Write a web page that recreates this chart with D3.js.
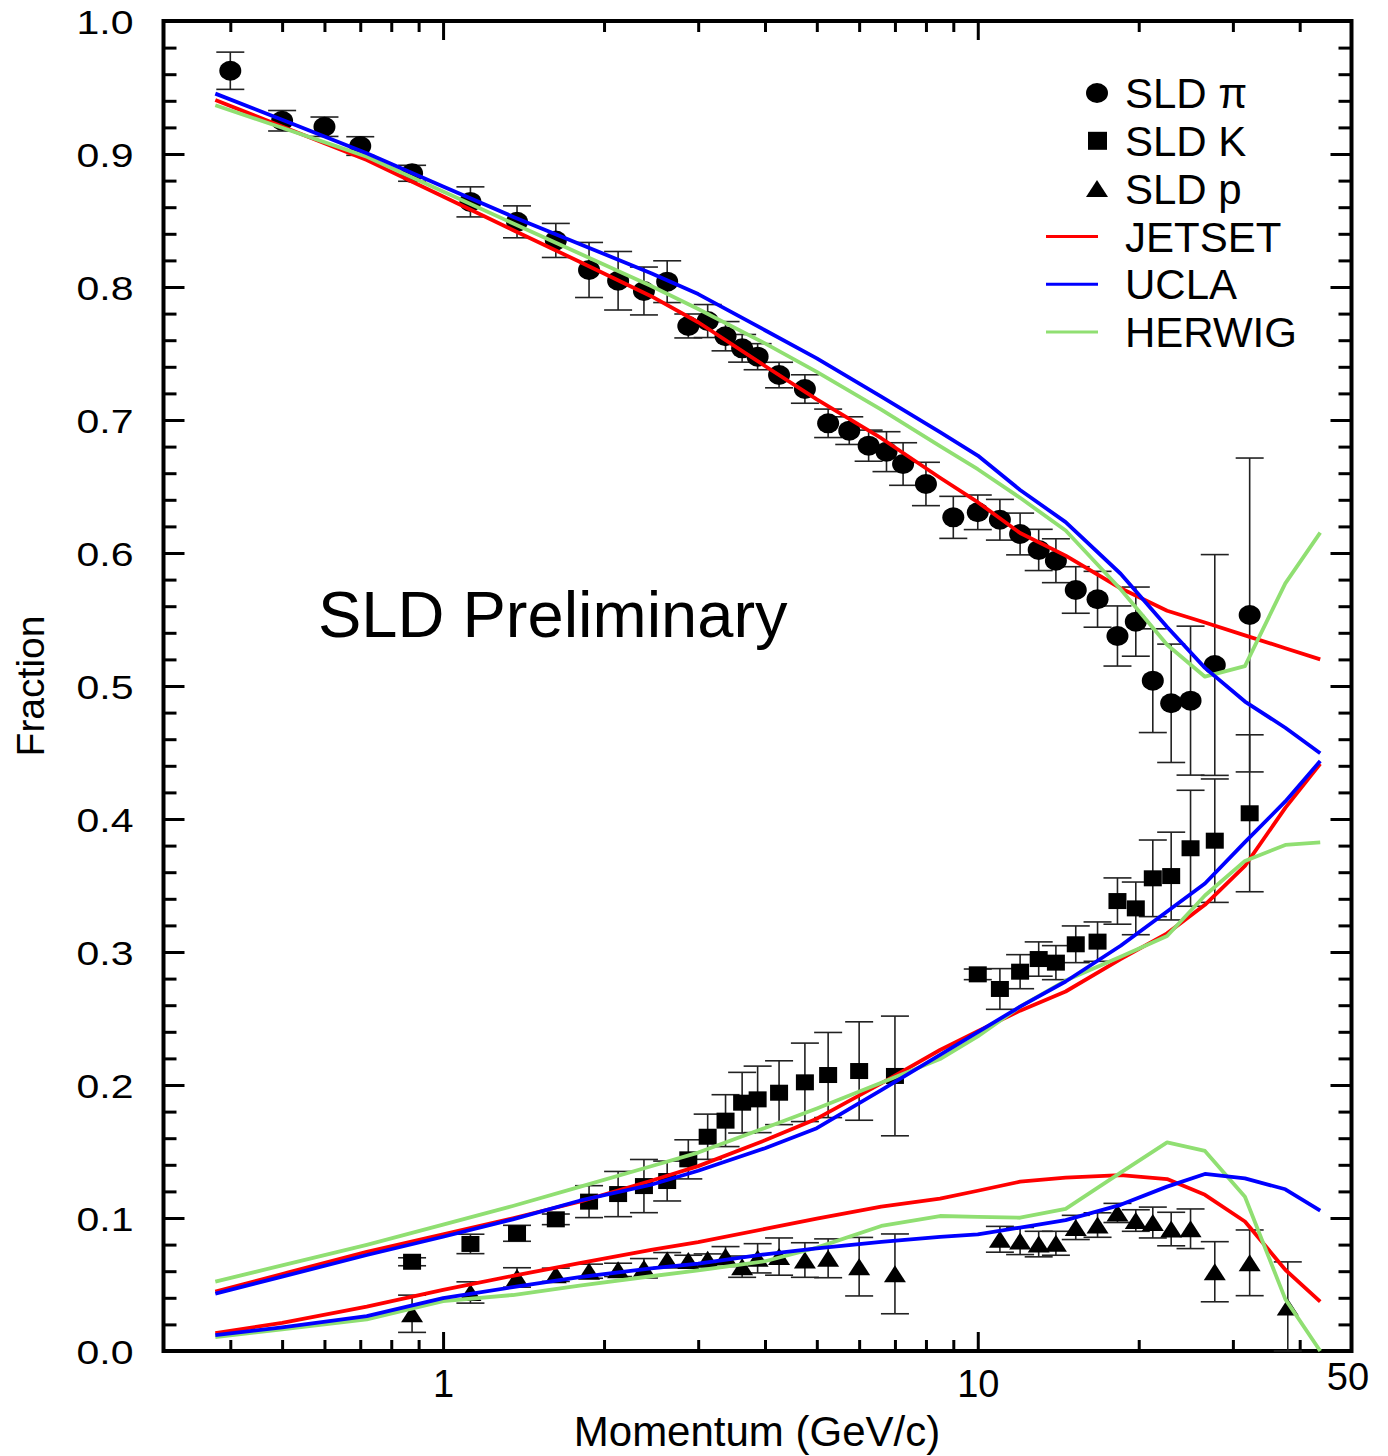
<!DOCTYPE html>
<html>
<head>
<meta charset="utf-8">
<script src="https://cdn.jsdelivr.net/npm/d3@7"></script>
<style>
  body { margin: 0; background: #fff; }
  text { font-family: "Liberation Sans", Arial, sans-serif; fill: #000; }
</style>
</head>
<body>
<div id="chart"></div>
<script>
// SLD measured fractions (momentum in GeV/c, fraction, error)
const pionP = [0.4, 0.5, 0.6, 0.7, 0.875, 1.125, 1.375, 1.625, 1.875, 2.125, 2.375, 2.625, 2.875, 3.125, 3.375, 3.625, 3.875, 4.25, 4.75, 5.25, 5.75, 6.25, 6.75, 7.25, 8.0, 9.0, 10.0, 11.0, 12.0, 13.0, 14.0, 15.25, 16.75, 18.25, 19.75, 21.25, 23.0, 25.0, 27.75, 32.25];
const pionF = [0.9626, 0.925, 0.9205, 0.906, 0.8855, 0.864, 0.849, 0.835, 0.8128, 0.8047, 0.797, 0.804, 0.7707, 0.7744, 0.763, 0.7539, 0.7476, 0.7338, 0.7233, 0.6975, 0.692, 0.6807, 0.6762, 0.6669, 0.6519, 0.6268, 0.6306, 0.625, 0.6143, 0.6023, 0.5942, 0.5722, 0.5652, 0.5376, 0.5484, 0.504, 0.487, 0.489, 0.5158, 0.5534];
const pionErr = [0.014, 0.0077, 0.0073, 0.007, 0.006, 0.0113, 0.012, 0.0128, 0.0207, 0.022, 0.018, 0.0157, 0.009, 0.0124, 0.011, 0.0104, 0.0098, 0.0096, 0.0107, 0.0107, 0.0104, 0.0117, 0.015, 0.016, 0.0163, 0.0158, 0.013, 0.0153, 0.0157, 0.0155, 0.0165, 0.0175, 0.021, 0.0226, 0.026, 0.039, 0.0445, 0.056, 0.083, 0.118];

const kaonP = [0.875, 1.125, 1.375, 1.625, 1.875, 2.125, 2.375, 2.625, 2.875, 3.125, 3.375, 3.625, 3.875, 4.25, 4.75, 5.25, 6.0, 7.0, 10.0, 11.0, 12.0, 13.0, 14.0, 15.25, 16.75, 18.25, 19.75, 21.25, 23.0, 25.0, 27.75, 32.25];
const kaonF = [0.0671, 0.0805, 0.0885, 0.099, 0.1123, 0.118, 0.124, 0.1278, 0.1441, 0.1611, 0.1732, 0.1867, 0.1892, 0.1942, 0.202, 0.2075, 0.2105, 0.2068, 0.2832, 0.2722, 0.2852, 0.2947, 0.292, 0.3058, 0.3078, 0.3383, 0.3328, 0.3554, 0.3571, 0.378, 0.3837, 0.4043];
const kaonErr = [0.003, 0.0073, 0.006, 0.004, 0.012, 0.017, 0.02, 0.015, 0.0147, 0.017, 0.0195, 0.0228, 0.025, 0.024, 0.0295, 0.032, 0.037, 0.045, 0.004, 0.0153, 0.0128, 0.0129, 0.0128, 0.0138, 0.0148, 0.0174, 0.0198, 0.0288, 0.033, 0.0436, 0.0464, 0.059];

const protonP = [0.875, 1.125, 1.375, 1.625, 1.875, 2.125, 2.375, 2.625, 2.875, 3.125, 3.375, 3.625, 3.875, 4.25, 4.75, 5.25, 6.0, 7.0, 11.0, 12.0, 13.0, 14.0, 15.25, 16.75, 18.25, 19.75, 21.25, 23.0, 25.0, 27.75, 32.25, 38.0];
const protonF = [0.028, 0.044, 0.0553, 0.0573, 0.06, 0.061, 0.0622, 0.0684, 0.068, 0.069, 0.071, 0.0634, 0.0697, 0.071, 0.0684, 0.0697, 0.0634, 0.058, 0.084, 0.0827, 0.0804, 0.081, 0.0929, 0.0947, 0.1038, 0.0981, 0.0966, 0.0917, 0.0919, 0.0596, 0.0663, 0.033];
const protonErr = [0.014, 0.008, 0.0073, 0.005, 0.0053, 0.005, 0.0073, 0.0056, 0.004, 0.004, 0.0075, 0.008, 0.011, 0.014, 0.013, 0.0146, 0.022, 0.03, 0.0097, 0.0102, 0.0096, 0.009, 0.0091, 0.0092, 0.0072, 0.0081, 0.0116, 0.0126, 0.0149, 0.0226, 0.0247, 0.034];

// Model predictions, read on one momentum grid
const modelP = [0.375, 0.5, 0.72, 1.0, 1.35, 1.8, 2.45, 3.0, 4.0, 5.0, 6.6, 8.5, 10, 12, 14.6, 18.5, 22.6, 26.6, 31.6, 37.6, 43.7];

const jetsetPi = [0.9406, 0.9207, 0.8955, 0.8681, 0.8429, 0.819, 0.7931, 0.7735, 0.7406, 0.7155, 0.6863, 0.6566, 0.6382, 0.615, 0.598, 0.5735, 0.5566, 0.5477, 0.5381, 0.5284, 0.52];
const uclaPi   = [0.9454, 0.9257, 0.9005, 0.8756, 0.8529, 0.8324, 0.8103, 0.7947, 0.7675, 0.7463, 0.7175, 0.6909, 0.6733, 0.6474, 0.6232, 0.5844, 0.5444, 0.5136, 0.4883, 0.4686, 0.4494];
const herwigPi = [0.9366, 0.9197, 0.898, 0.8718, 0.8479, 0.8252, 0.8007, 0.7834, 0.7576, 0.7362, 0.7078, 0.6803, 0.663, 0.6415, 0.6169, 0.5728, 0.531, 0.507, 0.515, 0.5772, 0.6153];

const jetsetK  = [0.0447, 0.0579, 0.0746, 0.0877, 0.0998, 0.1122, 0.128, 0.139, 0.1584, 0.1747, 0.2012, 0.2263, 0.2405, 0.2559, 0.2703, 0.2947, 0.314, 0.3355, 0.3647, 0.4084, 0.4414];
const uclaK    = [0.0431, 0.0559, 0.0722, 0.0859, 0.099, 0.113, 0.125, 0.1355, 0.1525, 0.1675, 0.1961, 0.2226, 0.2398, 0.2589, 0.2778, 0.3047, 0.3305, 0.3515, 0.3826, 0.4132, 0.4436];
const herwigK  = [0.0522, 0.0644, 0.0798, 0.095, 0.109, 0.1234, 0.1389, 0.1492, 0.1677, 0.1824, 0.2017, 0.2195, 0.2366, 0.2589, 0.2785, 0.2964, 0.312, 0.3425, 0.3685, 0.3805, 0.3825];

const jetsetP  = [0.0134, 0.0212, 0.0334, 0.0459, 0.0565, 0.066, 0.076, 0.0818, 0.0918, 0.0995, 0.1085, 0.1145, 0.1205, 0.1273, 0.1304, 0.1323, 0.1293, 0.1174, 0.0974, 0.0611, 0.0371];
const uclaPr   = [0.012, 0.0177, 0.0262, 0.0398, 0.048, 0.0555, 0.0622, 0.0657, 0.0727, 0.0772, 0.082, 0.0858, 0.0877, 0.0928, 0.0984, 0.1099, 0.1236, 0.1331, 0.1298, 0.1216, 0.1055];
const herwigPr = [0.0104, 0.0163, 0.0238, 0.0375, 0.0421, 0.0492, 0.0562, 0.0606, 0.0675, 0.0777, 0.094, 0.1015, 0.1008, 0.1002, 0.1068, 0.1341, 0.1569, 0.1504, 0.116, 0.039, 0.0];

// Axis ticks
const yMajor = [0, 0.1, 0.2, 0.3, 0.4, 0.5, 0.6, 0.7, 0.8, 0.9, 1.0];
const yMinor = d3.range(51).filter(i => i % 5 !== 0).map(i => i / 50);
const xMajor = [1, 10];
const xMinor = [0.4, 0.5, 0.6, 0.7, 0.8, 0.9, 2, 3, 4, 5, 6, 7, 8, 9, 20, 30, 40];
const xLabels = [1, 10, 50];

// Legend entries
const markerLegend = ["SLD \u03c0", "SLD K", "SLD p"];
const lineLegend = ["JETSET", "UCLA", "HERWIG"];
const lineColors = { JETSET: "#ff0000", UCLA: "#0000ff", HERWIG: "#90df72" };

// Plot frame in pixels
const frame = { left: 163.5, right: 1351.5, top: 21, bottom: 1351 };

const svg = d3.select("#chart")
    .append("svg")
    .attr("width", 1388)
    .attr("height", 1456);

const x = d3.scaleLog().domain([0.3, 50]).range([frame.left, frame.right]);
const y = d3.scaleLinear().domain([0, 1]).range([frame.bottom, frame.top]);

// Helper to style an axis group
function styleAxis(g) {
    g.select(".domain").remove();
    g.selectAll(".tick line").attr("stroke", "#000").attr("stroke-width", 3);
    g.attr("font-family", "Liberation Sans, Arial, sans-serif");
}

// Minor ticks on all four sides
svg.append("g").attr("transform", `translate(${frame.left},0)`)
    .call(d3.axisLeft(y).tickValues(yMinor).tickSize(-13).tickFormat(""))
    .call(styleAxis);
svg.append("g").attr("transform", `translate(${frame.right},0)`)
    .call(d3.axisRight(y).tickValues(yMinor).tickSize(-13).tickFormat(""))
    .call(styleAxis);
svg.append("g").attr("transform", `translate(0,${frame.top})`)
    .call(d3.axisTop(x).tickValues(xMinor).tickSize(-11).tickFormat(""))
    .call(styleAxis);
svg.append("g").attr("transform", `translate(0,${frame.bottom})`)
    .call(d3.axisBottom(x).tickValues(xMinor).tickSize(-11).tickFormat(""))
    .call(styleAxis);

// Major ticks
const yAxis = svg.append("g").attr("transform", `translate(${frame.left},0)`)
    .call(d3.axisLeft(y).tickValues(yMajor).tickSize(-21).tickPadding(30).tickFormat(d3.format(".1f")))
    .call(styleAxis);
yAxis.selectAll("text")
    .attr("font-size", 34)
    .attr("fill", "#000")
    .attr("dy", "0.38em")
    .attr("textLength", 57)
    .attr("lengthAdjust", "spacingAndGlyphs");

svg.append("g").attr("transform", `translate(${frame.right},0)`)
    .call(d3.axisRight(y).tickValues(yMajor).tickSize(-21).tickFormat(""))
    .call(styleAxis);
svg.append("g").attr("transform", `translate(0,${frame.top})`)
    .call(d3.axisTop(x).tickValues(xMajor).tickSize(-19).tickFormat(""))
    .call(styleAxis);

const xAxis = svg.append("g").attr("transform", `translate(0,${frame.bottom})`)
    .call(d3.axisBottom(x).tickValues(xLabels).tickSize(-19).tickPadding(19).tickFormat(d3.format("d")))
    .call(styleAxis);
xAxis.selectAll("text")
    .attr("font-size", 38)
    .attr("fill", "#000");
// the 50 label sits a little higher and left in the original
xAxis.selectAll(".tick")
    .filter(d => d === 50)
    .select("text")
    .attr("x", -4)
    .attr("y", 12);
xAxis.selectAll(".tick").filter(d => d === 50).select("line").remove();

// Frame
svg.append("rect")
    .attr("x", frame.left)
    .attr("y", frame.top)
    .attr("width", frame.right - frame.left)
    .attr("height", frame.bottom - frame.top)
    .attr("fill", "none")
    .attr("stroke", "#000")
    .attr("stroke-width", 4);

// Axis titles
svg.append("text")
    .attr("x", 757)
    .attr("y", 1446)
    .attr("text-anchor", "middle")
    .attr("font-size", 42)
    .text("Momentum (GeV/c)");

svg.append("text")
    .attr("transform", "translate(44,686) rotate(-90)")
    .attr("text-anchor", "middle")
    .attr("font-size", 39)
    .text("Fraction");

svg.append("text")
    .attr("x", 318)
    .attr("y", 637)
    .attr("font-size", 65)
    .text("SLD Preliminary");

// Build the measured series
const zip = (p, f, e) => p.map((v, i) => ({ p: v, f: f[i], e: e[i] }));
const pions = zip(pionP, pionF, pionErr);
const kaons = zip(kaonP, kaonF, kaonErr);
const protons = zip(protonP, protonF, protonErr);

// Error bars
const errG = svg.append("g")
    .attr("stroke", "#222")
    .attr("stroke-width", 1.6)
    .attr("fill", "none");

[pions, kaons, protons].forEach(series => {
    series.forEach(d => {
        const cx = x(d.p);
        const y1 = y(d.f + d.e), y2 = y(Math.max(0, d.f - d.e));
        errG.append("line").attr("x1", cx).attr("x2", cx).attr("y1", y1).attr("y2", y2);
        errG.append("line").attr("x1", cx - 14).attr("x2", cx + 14).attr("y1", y1).attr("y2", y1);
        errG.append("line").attr("x1", cx - 14).attr("x2", cx + 14).attr("y1", y2).attr("y2", y2);
    });
});

// Markers
const triangle = "M0,-8.5L11,8.5L-11,8.5Z";

svg.append("g").selectAll("ellipse")
    .data(pions)
    .enter()
    .append("ellipse")
    .attr("cx", d => x(d.p))
    .attr("cy", d => y(d.f))
    .attr("rx", 11)
    .attr("ry", 10)
    .attr("fill", "#000");

svg.append("g").selectAll("rect")
    .data(kaons)
    .enter()
    .append("rect")
    .attr("x", d => x(d.p) - 9)
    .attr("y", d => y(d.f) - 8)
    .attr("width", 18)
    .attr("height", 16)
    .attr("fill", "#000");

svg.append("g").selectAll("path")
    .data(protons)
    .enter()
    .append("path")
    .attr("transform", d => `translate(${x(d.p)},${y(d.f)})`)
    .attr("d", triangle)
    .attr("fill", "#000");

// Model curves, drawn on top of the data
const line = d3.line()
    .x(d => x(d[0]))
    .y(d => y(d[1]));

const models = [
    { name: "JETSET", series: [jetsetPi, jetsetK, jetsetP] },
    { name: "HERWIG", series: [herwigPi, herwigK, herwigPr] },
    { name: "UCLA", series: [uclaPi, uclaK, uclaPr] }
];

models.forEach(m => {
    m.series.forEach(vals => {
        svg.append("path")
            .datum(modelP.map((p, i) => [p, vals[i]]))
            .attr("fill", "none")
            .attr("stroke", lineColors[m.name])
            .attr("stroke-width", 3.8)
            .attr("stroke-linejoin", "round")
            .attr("d", line);
    });
});

// Legend
const legend = svg.append("g");
const rowY = i => 93 + i * 47.8;

markerLegend.forEach((label, i) => {
    const cy = rowY(i);
    if (i === 0) {
        legend.append("ellipse").attr("cx", 1097).attr("cy", cy).attr("rx", 11).attr("ry", 10).attr("fill", "#000");
    } else if (i === 1) {
        legend.append("rect").attr("x", 1088).attr("y", cy - 9).attr("width", 19).attr("height", 18).attr("fill", "#000");
    } else {
        legend.append("path").attr("transform", `translate(1097,${cy})`).attr("d", triangle).attr("fill", "#000");
    }
    legend.append("text")
        .attr("x", 1125)
        .attr("y", cy)
        .attr("dy", "0.36em")
        .attr("font-size", 42)
        .text(label);
});

lineLegend.forEach((label, i) => {
    const cy = rowY(i + 3);
    legend.append("line")
        .attr("x1", 1046)
        .attr("x2", 1098)
        .attr("y1", cy)
        .attr("y2", cy)
        .attr("stroke", lineColors[label])
        .attr("stroke-width", 3);
    legend.append("text")
        .attr("x", 1125)
        .attr("y", cy)
        .attr("dy", "0.36em")
        .attr("font-size", 42)
        .text(label);
});
</script>
</body>
</html>
